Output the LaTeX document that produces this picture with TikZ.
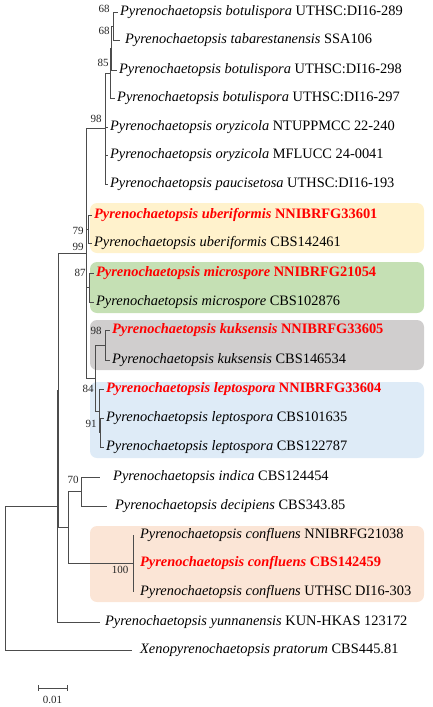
\documentclass[tikz,border=0pt]{standalone}
\usepackage{fontspec}
\setmainfont{Liberation Serif}
\definecolor{boxY}{HTML}{FFF2CC}
\definecolor{boxG}{HTML}{C5E0B4}
\definecolor{boxK}{HTML}{D0CECE}
\definecolor{boxB}{HTML}{DEEBF7}
\definecolor{boxP}{HTML}{FBE5D6}
\definecolor{hl}{HTML}{FF0000}
\begin{document}
\begin{tikzpicture}[x=1pt,y=-1pt,
  br/.style={draw=black!70, line width=0.9pt},
  leaf/.style={anchor=west, inner sep=0pt, font=\fontsize{14.4}{17}\selectfont},
  redleaf/.style={leaf, text=hl, font=\fontsize{14.4}{17}\selectfont\bfseries},
  bs/.style={inner sep=0pt, font=\fontsize{11}{13}\selectfont, text=black!85},
  cladebox/.style={rounded corners=7pt}]
\useasboundingbox (0,0) rectangle (432,707);
% clade boxes
\fill[boxY, cladebox] (90,203) rectangle (424,253);
\fill[boxG, cladebox] (90,262) rectangle (424,313);
\fill[boxK, cladebox] (90,320) rectangle (424,370);
\fill[boxB, cladebox] (90,382) rectangle (424,458);
\fill[boxP, cladebox] (90,526) rectangle (424,602);
% internal nodes
\coordinate (R) at (5,578);
\coordinate (A) at (57,506);
\coordinate (B) at (58,390);
\coordinate (D) at (86,253);
\coordinate (n98) at (105,128.5);
\coordinate (n85) at (110,73);
\coordinate (n68a) at (111,48);
\coordinate (n68b) at (113,26);
\coordinate (n79) at (88,229);
\coordinate (n87) at (89,287.5);
\coordinate (E) at (95,378);
\coordinate (K) at (105,345);
\coordinate (L) at (99,411);
\coordinate (n91) at (100,432.5);
\coordinate (C) at (68,527);
\coordinate (n70) at (81,491.5);
\coordinate (Cf) at (133,563);
% tips
\coordinate (t1) at (118,12);
\coordinate (t2) at (120,40);
\coordinate (t3) at (117,70);
\coordinate (t4) at (115,98);
\coordinate (t5) at (108,127);
\coordinate (t6) at (108,155);
\coordinate (t7) at (108,184);
\coordinate (t8) at (92,215);
\coordinate (t9) at (92,243);
\coordinate (t10) at (94,273);
\coordinate (t11) at (94,302);
\coordinate (t12) at (110,330);
\coordinate (t13) at (110,360);
\coordinate (t14) at (104,389);
\coordinate (t15) at (104,418);
\coordinate (t16) at (104,447);
\coordinate (t17) at (100,477);
\coordinate (t18) at (107,506);
\coordinate (t19) at (133,535);
\coordinate (t21) at (133,592);
\coordinate (t22) at (100,622);
\coordinate (t23) at (132,650);
% branches
\draw[br] (R) |- (A); \draw[br] (R) |- (t23);
\draw[br] (A) |- (B); \draw[br] (A) |- (t22);
\draw[br] (B) |- (D); \draw[br] (B) |- (C);
\draw[br] (D) |- (n98); \draw[br] (D) |- (n79); \draw[br] (D) |- (n87); \draw[br] (D) |- (E);
\draw[br] (n98) |- (n85); \draw[br] (n98) |- (t5); \draw[br] (n98) |- (t6); \draw[br] (n98) |- (t7);
\draw[br] (n85) |- (n68a); \draw[br] (n85) |- (t4);
\draw[br] (n68a) |- (n68b); \draw[br] (n68a) |- (t3);
\draw[br] (n68b) |- (t1); \draw[br] (n68b) |- (t2);
\draw[br] (n79) |- (t8); \draw[br] (n79) |- (t9);
\draw[br] (n87) |- (t10); \draw[br] (n87) |- (t11);
\draw[br] (E) |- (K); \draw[br] (E) |- (L);
\draw[br] (K) |- (t12); \draw[br] (K) |- (t13);
\draw[br] (L) |- (t14); \draw[br] (L) |- (n91);
\draw[br] (n91) |- (t15); \draw[br] (n91) |- (t16);
\draw[br] (C) |- (n70); \draw[br] (C) |- (Cf);
\draw[br] (n70) |- (t17); \draw[br] (n70) |- (t18);
\draw[br] (Cf) |- (t19); \draw[br] (Cf) |- (t21);
% leaf labels
\node[leaf] (l1) at (120,12) {\textit{Pyrenochaetopsis botulispora} UTHSC:DI16-289};
\node[leaf] (l2) at (125,40) {\textit{Pyrenochaetopsis tabarestanensis} SSA106};
\node[leaf] (l3) at (119,70) {\textit{Pyrenochaetopsis botulispora} UTHSC:DI16-298};
\node[leaf] (l4) at (117,98) {\textit{Pyrenochaetopsis botulispora} UTHSC:DI16-297};
\node[leaf] (l5) at (110,127) {\textit{Pyrenochaetopsis oryzicola} NTUPPMCC 22-240};
\node[leaf] (l6) at (110,155) {\textit{Pyrenochaetopsis oryzicola} MFLUCC 24-0041};
\node[leaf] (l7) at (110,184) {\textit{Pyrenochaetopsis paucisetosa} UTHSC:DI16-193};
\node[redleaf] (l8) at (94,215) {\textit{Pyrenochaetopsis uberiformis} NNIBRFG33601};
\node[leaf] (l9) at (94,243) {\textit{Pyrenochaetopsis uberiformis} CBS142461};
\node[redleaf] (l10) at (96,273) {\textit{Pyrenochaetopsis microspore} NNIBRFG21054};
\node[leaf] (l11) at (96,302) {\textit{Pyrenochaetopsis microspore} CBS102876};
\node[redleaf] (l12) at (112,330) {\textit{Pyrenochaetopsis kuksensis} NNIBRFG33605};
\node[leaf] (l13) at (112,360) {\textit{Pyrenochaetopsis kuksensis} CBS146534};
\node[redleaf] (l14) at (106,389) {\textit{Pyrenochaetopsis leptospora} NNIBRFG33604};
\node[leaf] (l15) at (106,418) {\textit{Pyrenochaetopsis leptospora} CBS101635};
\node[leaf] (l16) at (106,447) {\textit{Pyrenochaetopsis leptospora} CBS122787};
\node[leaf] (l17) at (113,477) {\textit{Pyrenochaetopsis indica} CBS124454};
\node[leaf] (l18) at (115,506) {\textit{Pyrenochaetopsis decipiens} CBS343.85};
\node[leaf] (l19) at (140,535) {\textit{Pyrenochaetopsis confluens} NNIBRFG21038};
\node[redleaf] (l20) at (140,563) {\textit{Pyrenochaetopsis confluens} CBS142459};
\node[leaf] (l21) at (140,592) {\textit{Pyrenochaetopsis confluens} UTHSC DI16-303};
\node[leaf] (l22) at (105,622) {\textit{Pyrenochaetopsis yunnanensis} KUN-HKAS 123172};
\node[leaf] (l23) at (140,650) {\textit{Xenopyrenochaetopsis pratorum} CBS445.81};
% bootstrap values
\node[bs] (b1) at (104,9) {68};
\node[bs] (b2) at (104,31) {68};
\node[bs] (b3) at (103,63) {85};
\node[bs] (b4) at (96,119) {98};
\node[bs] (b5) at (78,231) {79};
\node[bs] (b6) at (78,247) {99};
\node[bs] (b7) at (80,273) {87};
\node[bs] (b8) at (96,331) {98};
\node[bs] (b9) at (88,389) {84};
\node[bs] (b10) at (91,424) {91};
\node[bs] (b11) at (73,480) {70};
\node[bs] (b12) at (120,570) {100};
% scale bar
\coordinate (s1) at (38,688);
\coordinate (s2) at (67,688);
\draw[br] (s1) -- (s2);
\draw[br] (s1) ++(0,-3) -- ++(0,6);
\draw[br] (s2) ++(0,-3) -- ++(0,6);
\node[bs] (sl) at (52.5,700) {0.01};
\end{tikzpicture}
\end{document}
